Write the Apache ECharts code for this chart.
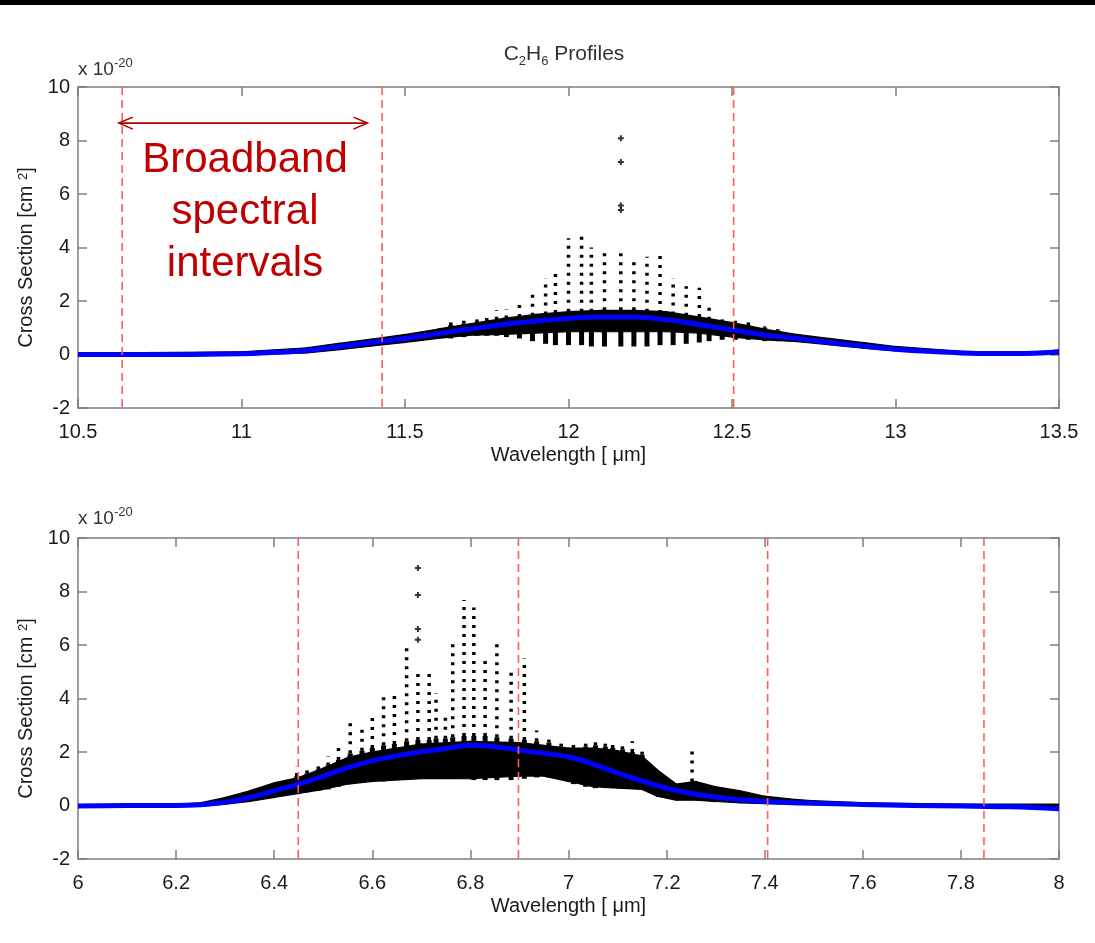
<!DOCTYPE html>
<html>
<head>
<meta charset="utf-8">
<script src="https://cdn.jsdelivr.net/npm/echarts@6/dist/echarts.min.js"></script>
<style>html,body{margin:0;padding:0;background:#fff;}#c{width:1095px;height:943px;}</style>
</head>
<body>
<div id="c"></div>
<script>
// ---------- Top panel (11-13 µm band) ----------
const topXRange = [10.5, 13.5];
const topBlueX = [10.5, 10.8, 11.0, 11.1, 11.2, 11.3, 11.4, 11.5, 11.6, 11.7, 11.8, 11.9, 12.0, 12.1, 12.2, 12.3, 12.4, 12.5, 12.6, 12.7, 12.8, 12.9, 13.0, 13.1, 13.2, 13.3, 13.4, 13.5];
const topBlueY = [0.0, 0.0, 0.03, 0.08, 0.15, 0.3, 0.45, 0.6, 0.78, 0.95, 1.12, 1.25, 1.35, 1.4, 1.4, 1.3, 1.12, 0.92, 0.73, 0.6, 0.45, 0.32, 0.2, 0.12, 0.06, 0.04, 0.04, 0.1];
const topBandX = [10.5, 11.0, 11.2, 11.3, 11.4, 11.5, 11.6, 11.7, 11.8, 11.9, 12.0, 12.1, 12.2, 12.3, 12.4, 12.5, 12.6, 12.7, 12.8, 12.9, 13.0, 13.2, 13.4, 13.5];
const topBandLow = [-0.04, -0.02, 0.06, 0.18, 0.32, 0.45, 0.6, 0.72, 0.75, 0.8, 0.85, 0.85, 0.85, 0.85, 0.8, 0.65, 0.55, 0.48, 0.36, 0.24, 0.14, 0.02, -0.01, 0.02];
const topBandHigh = [0.05, 0.1, 0.25, 0.42, 0.58, 0.75, 0.95, 1.15, 1.35, 1.5, 1.6, 1.65, 1.65, 1.6, 1.4, 1.2, 0.95, 0.75, 0.6, 0.45, 0.3, 0.12, 0.08, 0.16];
const topColX   = [11.64, 11.68, 11.72, 11.75, 11.78, 11.81, 11.85, 11.89, 11.93, 11.96, 12.00, 12.04, 12.07, 12.11, 12.16, 12.20, 12.24, 12.28, 12.32, 12.36, 12.40, 12.43, 12.47, 12.51, 12.55, 12.60, 12.64];
const topColLow = [0.6, 0.65, 0.7, 0.7, 0.7, 0.65, 0.6, 0.5, 0.4, 0.35, 0.35, 0.35, 0.3, 0.3, 0.3, 0.3, 0.3, 0.35, 0.35, 0.4, 0.45, 0.5, 0.55, 0.55, 0.55, 0.5, 0.5];
const topColMid = [1.1, 1.15, 1.2, 1.25, 1.3, 1.35, 1.4, 1.45, 1.5, 1.55, 1.6, 1.6, 1.6, 1.65, 1.65, 1.65, 1.6, 1.55, 1.5, 1.45, 1.4, 1.3, 1.2, 1.15, 1.1, 1.0, 0.9];
const topColTop = [1.2, 1.3, 1.35, 1.5, 1.66, 1.7, 2.0, 2.4, 2.85, 3.2, 4.35, 4.4, 4.0, 4.0, 3.9, 3.5, 3.65, 3.85, 2.85, 2.55, 2.5, 1.75, 1.5, 1.4, 1.2, 1.05, 0.95];
const topOutlierX = [12.16, 12.16, 12.16, 12.16];
const topOutlierY = [8.08, 7.2, 5.57, 5.4];
const topIntervals = [10.635, 11.43, 12.505];
const topArrow = [10.625, 11.385, 8.65];

// ---------- Bottom panel (6-8 µm band) ----------
const botXRange = [6, 8];
const botBlueX = [6.0, 6.1, 6.2, 6.25, 6.3, 6.35, 6.4, 6.45, 6.5, 6.55, 6.6, 6.65, 6.7, 6.75, 6.8, 6.85, 6.9, 6.95, 7.0, 7.05, 7.1, 7.15, 7.2, 7.25, 7.3, 7.35, 7.4, 7.5, 7.6, 7.7, 7.8, 7.9, 8.0];
const botBlueY = [-0.02, 0.0, 0.0, 0.03, 0.12, 0.3, 0.55, 0.8, 1.1, 1.42, 1.67, 1.86, 2.01, 2.13, 2.25, 2.2, 2.07, 1.95, 1.82, 1.55, 1.22, 0.92, 0.65, 0.45, 0.32, 0.22, 0.15, 0.08, 0.04, 0.0, -0.02, -0.05, -0.12];
const botBandX = [6.0, 6.2, 6.25, 6.3, 6.35, 6.4, 6.45, 6.5, 6.55, 6.6, 6.7, 6.8, 6.9, 6.95, 7.0, 7.05, 7.1, 7.15, 7.18, 7.22, 7.26, 7.3, 7.35, 7.4, 7.45, 7.5, 7.6, 7.8, 8.0];
const botBandLow = [-0.03, -0.02, 0.0, 0.05, 0.15, 0.3, 0.45, 0.6, 0.8, 0.9, 1.0, 1.0, 1.1, 1.1, 0.9, 0.7, 0.65, 0.6, 0.35, 0.2, 0.2, 0.15, 0.1, 0.07, 0.05, 0.03, 0.0, -0.04, -0.08];
const botBandHigh = [0.03, 0.05, 0.1, 0.3, 0.55, 0.85, 1.05, 1.4, 1.8, 2.0, 2.3, 2.4, 2.35, 2.25, 2.15, 2.15, 2.05, 1.85, 1.35, 0.8, 0.9, 0.7, 0.55, 0.35, 0.25, 0.18, 0.1, 0.05, 0.05];
const botColX   = [6.446, 6.467, 6.49, 6.51, 6.531, 6.555, 6.579, 6.60, 6.623, 6.645, 6.67, 6.693, 6.716, 6.73, 6.749, 6.764, 6.787, 6.807, 6.83, 6.854, 6.883, 6.91, 6.935, 6.96, 6.985, 7.01, 7.035, 7.055, 7.075, 7.09, 7.11, 7.13, 7.15, 7.252];
const botColLow = [0.45, 0.5, 0.55, 0.6, 0.7, 0.8, 0.85, 0.9, 0.9, 0.95, 1.0, 1.0, 1.0, 1.0, 1.0, 1.0, 1.0, 0.95, 0.95, 0.95, 0.95, 1.0, 1.05, 1.05, 1.0, 0.8, 0.7, 0.65, 0.65, 0.65, 0.65, 0.65, 0.6, 0.3];
const botColMid = [1.1, 1.2, 1.35, 1.5, 1.7, 1.95, 2.05, 2.15, 2.25, 2.3, 2.4, 2.45, 2.45, 2.5, 2.5, 2.55, 2.6, 2.6, 2.6, 2.55, 2.5, 2.45, 2.4, 2.35, 2.2, 2.15, 2.2, 2.25, 2.2, 2.15, 2.1, 2.0, 1.9, 0.9];
const botColTop = [1.45, 1.35, 1.55, 1.85, 2.15, 3.1, 3.05, 3.35, 4.15, 4.3, 5.95, 4.95, 5.0, 4.2, 3.45, 6.1, 7.68, 7.4, 5.56, 6.1, 5.15, 5.5, 2.8, 2.6, 2.45, 2.35, 2.4, 2.5, 2.35, 2.4, 2.3, 2.4, 2.2, 2.05];
const botOutlierX = [6.693, 6.693, 6.693, 6.693];
const botOutlierY = [8.88, 7.87, 6.6, 6.2];
const botIntervals = [6.449, 6.898, 7.406, 7.847];

const yRange = [-2, 10];

// ---------- styling helpers ----------
const AX = '#7f7f7f';
const FONT = '"Liberation Sans", Arial, Helvetica, sans-serif';
const TXT = '#1a1a1a';

function xAxes(gi, range, interval) {
  return [
    { type: 'value', gridIndex: gi, position: 'bottom', min: range[0], max: range[1], interval: interval,
      axisLine: { show: true, onZero: false, lineStyle: { color: AX, width: 1.5 } },
      axisTick: { show: true, inside: true, length: 9, lineStyle: { color: AX, width: 1.5 } },
      axisLabel: { show: true, margin: 14, color: TXT, fontSize: 20, fontFamily: FONT, showMinLabel: true, showMaxLabel: true },
      splitLine: { show: false },
      name: 'Wavelength [ \u03bcm]', nameLocation: 'middle', nameGap: 37,
      nameTextStyle: { color: TXT, fontSize: 20, fontFamily: FONT } },
    { type: 'value', gridIndex: gi, position: 'top', min: range[0], max: range[1], interval: interval,
      axisLine: { show: true, onZero: false, lineStyle: { color: AX, width: 1.5 } },
      axisTick: { show: true, inside: true, length: 9, lineStyle: { color: AX, width: 1.5 } },
      axisLabel: { show: false }, splitLine: { show: false } }
  ];
}
function yAxes(gi) {
  return [
    { type: 'value', gridIndex: gi, position: 'left', min: yRange[0], max: yRange[1], interval: 2,
      axisLine: { show: true, onZero: false, lineStyle: { color: AX, width: 1.5 } },
      axisTick: { show: true, inside: true, length: 9, lineStyle: { color: AX, width: 1.5 } },
      axisLabel: { show: true, margin: 8, color: TXT, fontSize: 20, fontFamily: FONT },
      splitLine: { show: false },
      name: 'Cross Section [cm {sup|2}]', nameLocation: 'middle', nameGap: 40, nameRotate: 90,
      nameTextStyle: { color: TXT, fontSize: 20, fontFamily: FONT, padding: [0, 20, 0, 0],
        rich: { sup: { fontSize: 13, fontFamily: FONT, color: TXT, verticalAlign: 'top', lineHeight: 14 } } } },
    { type: 'value', gridIndex: gi, position: 'right', min: yRange[0], max: yRange[1], interval: 2,
      axisLine: { show: true, onZero: false, lineStyle: { color: AX, width: 1.5 } },
      axisTick: { show: true, inside: true, length: 9, lineStyle: { color: AX, width: 1.5 } },
      axisLabel: { show: false }, splitLine: { show: false } }
  ];
}

function bandSeries(xs, lo, hi, ai) {
  return { type: 'custom', xAxisIndex: ai, yAxisIndex: ai, z: 2, silent: true, clip: true,
    data: xs.map((x, i) => [x, lo[i], hi[i]]), encode: { x: 0, y: [1, 2] },
    renderItem: (params, api) => {
      const i = params.dataIndex;
      if (i >= xs.length - 1) return { type: 'group', children: [] };
      const pts = [api.coord([xs[i], lo[i]]), api.coord([xs[i + 1], lo[i + 1]]),
                   api.coord([xs[i + 1], hi[i + 1]]), api.coord([xs[i], hi[i]])];
      return { type: 'polygon', shape: { points: pts }, style: { fill: '#000', stroke: '#000', lineWidth: 1.2 } };
    } };
}
function columnSeries(xs, lo, mid, top, ai) {
  return { type: 'custom', xAxisIndex: ai, yAxisIndex: ai, z: 3, silent: true,
    data: xs.map((x, i) => [x, lo[i], mid[i], top[i]]), encode: { x: 0, y: [1, 3] },
    renderItem: (params, api) => {
      const x = api.value(0);
      const a = api.coord([x, api.value(1)]), b = api.coord([x, api.value(2)]), c = api.coord([x, api.value(3)]);
      return { type: 'group', children: [
        { type: 'line', shape: { x1: a[0], y1: a[1], x2: b[0], y2: b[1] }, style: { stroke: '#000', lineWidth: 5 } },
        { type: 'line', shape: { x1: b[0], y1: b[1], x2: c[0], y2: c[1] }, style: { stroke: '#000', lineWidth: 3.5, lineDash: [3, 6] } }
      ] };
    } };
}
const PLUS = 'path://M2,0H4V2H6V4H4V6H2V4H0V2H2Z';
function outlierSeries(xs, ys, ai) {
  return { type: 'scatter', xAxisIndex: ai, yAxisIndex: ai, z: 4, silent: true, symbol: PLUS, symbolSize: 6,
    itemStyle: { color: '#000' }, data: xs.map((x, i) => [x, ys[i]]) };
}
function blueSeries(xs, ys, ai) {
  return { type: 'line', xAxisIndex: ai, yAxisIndex: ai, z: 5, silent: true, smooth: 0.4, symbol: 'none',
    lineStyle: { color: '#0000ff', width: 5 }, data: xs.map((x, i) => [x, ys[i]]) };
}
function intervalSeries(vals, ai) {
  return { type: 'custom', xAxisIndex: ai, yAxisIndex: ai, z: 8, silent: true,
    data: vals.map(v => [v, yRange[0]]), encode: { x: 0, y: 1 },
    renderItem: (params, api) => {
      const x = api.value(0);
      const a = api.coord([x, yRange[1]]), b = api.coord([x, yRange[0]]);
      return { type: 'line', shape: { x1: a[0], y1: a[1], x2: b[0], y2: b[1] },
        style: { stroke: '#ff5c5c', lineWidth: 1.6, lineDash: [8, 5] } };
    } };
}
function arrowSeries(arr, ai) {
  return { type: 'custom', xAxisIndex: ai, yAxisIndex: ai, z: 9, silent: true,
    data: [[arr[0], arr[2], arr[1]]], encode: { x: [0, 2], y: 1 },
    renderItem: (params, api) => {
      const p1 = api.coord([api.value(0), api.value(1)]), p2 = api.coord([api.value(2), api.value(1)]);
      const st = { stroke: '#b00000', lineWidth: 1.6, fill: null };
      return { type: 'group', children: [
        { type: 'line', shape: { x1: p1[0], y1: p1[1], x2: p2[0], y2: p2[1] }, style: st },
        { type: 'polyline', shape: { points: [[p1[0] + 14, p1[1] - 6], p1, [p1[0] + 14, p1[1] + 6]] }, style: st },
        { type: 'polyline', shape: { points: [[p2[0] - 14, p2[1] - 6], p2, [p2[0] - 14, p2[1] + 6]] }, style: st }
      ] };
    } };
}

const richSup = { sup: { fontSize: 13, fontFamily: FONT, fill: '#333', verticalAlign: 'top', lineHeight: 12 } };

const option = {
  backgroundColor: '#fff',
  animation: false,
  grid: [
    { left: 78, top: 87, width: 981, height: 321, show: false },
    { left: 78, top: 538, width: 981, height: 321, show: false }
  ],
  xAxis: [...xAxes(0, topXRange, 0.5), ...xAxes(1, botXRange, 0.2)],
  yAxis: [...yAxes(0), ...yAxes(1)],
  series: [
    bandSeries(topBandX, topBandLow, topBandHigh, 0),
    columnSeries(topColX, topColLow, topColMid, topColTop, 0),
    outlierSeries(topOutlierX, topOutlierY, 0),
    blueSeries(topBlueX, topBlueY, 0),
    intervalSeries(topIntervals, 0),
    arrowSeries(topArrow, 0),
    bandSeries(botBandX, botBandLow, botBandHigh, 2),
    columnSeries(botColX, botColLow, botColMid, botColTop, 2),
    outlierSeries(botOutlierX, botOutlierY, 2),
    blueSeries(botBlueX, botBlueY, 2),
    intervalSeries(botIntervals, 2)
  ],
  graphic: [
    { type: 'rect', shape: { x: 0, y: 0, width: 1095, height: 5 }, style: { fill: '#000' }, silent: true },
    { type: 'text', x: 564, y: 54, silent: true,
      style: { text: 'C{sub|2}H{sub|6} Profiles', fontSize: 21, fontFamily: FONT, fill: '#333', lineHeight: 28,
        align: 'center', verticalAlign: 'middle',
        rich: { sub: { fontSize: 13, fontFamily: FONT, fill: '#333', verticalAlign: 'bottom', lineHeight: 13 } } } },
    { type: 'text', x: 78, y: 70, silent: true,
      style: { text: 'x 10{sup|-20}', fontSize: 19, fontFamily: FONT, fill: '#333', lineHeight: 26,
        align: 'left', verticalAlign: 'middle', rich: richSup } },
    { type: 'text', x: 78, y: 519, silent: true,
      style: { text: 'x 10{sup|-20}', fontSize: 19, fontFamily: FONT, fill: '#333', lineHeight: 26,
        align: 'left', verticalAlign: 'middle', rich: richSup } },
    { type: 'text', x: 245, y: 212, silent: true,
      style: { text: 'Broadband\nspectral\nintervals', fontSize: 42, fontFamily: FONT, fill: '#c00000',
        lineHeight: 52, align: 'center', verticalAlign: 'middle' } }
  ]
};

const chart = echarts.init(document.getElementById('c'), null, { renderer: 'canvas' });
chart.setOption(option);
</script>
</body>
</html>
